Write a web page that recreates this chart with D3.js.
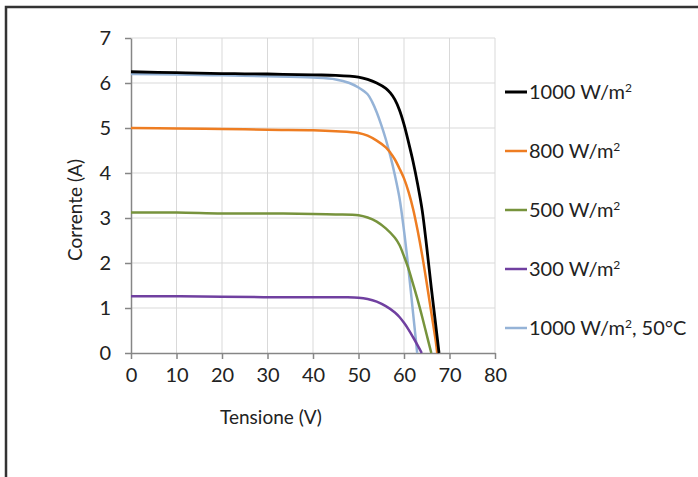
<!DOCTYPE html>
<html>
<head>
<meta charset="utf-8">
<script src="https://cdn.jsdelivr.net/npm/d3@7"></script>
<style>
  body { margin: 0; background: #fff; }
  text { font-family: Lato, "Noto Sans", sans-serif; fill: #222; }
</style>
</head>
<body>
<script>
// tensione (V) / corrente (A)
var v1000 = [0, 10, 20, 30, 40, 45, 50, 52, 54, 56, 57, 58, 59, 60, 61, 62, 63, 64, 65, 66, 67, 67.7]
var i1000 = [6.25, 6.23, 6.21, 6.2, 6.18, 6.17, 6.13, 6.08, 6.0, 5.88, 5.78, 5.63, 5.4, 5.08, 4.68, 4.25, 3.75, 3.17, 2.35, 1.45, 0.6, 0]

var v800 = [0, 10, 20, 30, 40, 45, 50, 52, 54, 56, 57, 58, 59, 60, 61, 62, 63, 64, 65, 66, 67, 67.3]
var i800 = [5.0, 4.99, 4.98, 4.96, 4.95, 4.93, 4.89, 4.83, 4.72, 4.57, 4.45, 4.3, 4.1, 3.88, 3.58, 3.2, 2.72, 2.17, 1.55, 0.9, 0.25, 0]

var v500 = [0, 10, 20, 30, 40, 45, 50, 52, 54, 56, 58, 59, 60, 61, 62, 63, 64, 65, 66]
var i500 = [3.12, 3.12, 3.1, 3.1, 3.09, 3.08, 3.06, 3.01, 2.92, 2.77, 2.56, 2.4, 2.15, 1.87, 1.53, 1.18, 0.8, 0.4, 0]

var v300 = [0, 10, 20, 30, 40, 47, 50, 52, 54, 56, 58, 59, 60, 61, 62, 63, 63.9]
var i300 = [1.26, 1.26, 1.25, 1.24, 1.24, 1.24, 1.23, 1.2, 1.14, 1.04, 0.9, 0.8, 0.67, 0.52, 0.35, 0.17, 0]

var v1000t = [0, 10, 20, 30, 40, 45, 48, 50, 52, 53, 54, 55, 56, 57, 58, 59, 60, 61, 62, 62.9]
var i1000t = [6.2, 6.19, 6.17, 6.15, 6.12, 6.08, 6.0, 5.9, 5.75, 5.58, 5.35, 5.07, 4.75, 4.38, 3.95, 3.45, 2.72, 1.85, 0.88, 0]

var seriesNames = ["1000 W/m", "800 W/m", "500 W/m", "300 W/m", "1000 W/m"]
var seriesTail = ["", "", "", "", ", 50°C"]
var seriesColors = ["#000000", "#ee7d22", "#77933c", "#7040a0", "#95b3d7"]
var xTicks = [0, 10, 20, 30, 40, 50, 60, 70, 80]
var yTicks = [0, 1, 2, 3, 4, 5, 6, 7]

var width = 698, height = 477

var svg = d3.select("body").append("svg")
    .attr("width", width)
    .attr("height", height)

// frame of the original scan
svg.append("path")
   .attr("d", "M6,477 V7 H698")
   .attr("fill", "none")
   .attr("stroke", "#333")
   .attr("stroke-width", 2.5)

var x = d3.scaleLinear().domain([0, 80]).range([131, 495])
var y = d3.scaleLinear().domain([0, 7]).range([353, 38])

// grid
svg.append("g").selectAll("line").data(xTicks.slice(1)).enter().append("line")
   .attr("x1", function(d){return x(d)}).attr("x2", function(d){return x(d)})
   .attr("y1", y(0)).attr("y2", y(7))
   .attr("stroke", "#d9d9d9").attr("stroke-width", 1)
svg.append("g").selectAll("line").data(yTicks.slice(1)).enter().append("line")
   .attr("x1", x(0)).attr("x2", x(80))
   .attr("y1", function(d){return y(d)}).attr("y2", function(d){return y(d)})
   .attr("stroke", "#d9d9d9").attr("stroke-width", 1)

// axes
svg.append("g")
   .attr("transform", "translate(0," + y(0) + ")")
   .call(d3.axisBottom(x).tickValues(xTicks).tickFormat(d3.format("d")).tickSize(6).tickPadding(9).tickSizeOuter(0))
svg.append("g")
   .attr("transform", "translate(" + x(0) + ",0)")
   .call(d3.axisLeft(y).tickValues(yTicks).tickFormat(d3.format("d")).tickSize(6).tickPadding(14).tickSizeOuter(0))

svg.selectAll(".domain").attr("stroke", "#868686").attr("stroke-width", 1.5)
svg.selectAll(".tick line").attr("stroke", "#868686").attr("stroke-width", 1.5)
svg.selectAll(".tick text").attr("font-size", "20px").attr("fill", "#222")
   .attr("font-family", "Lato, 'Noto Sans', sans-serif")

svg.append("text")
   .attr("x", 271).attr("y", 424)
   .attr("text-anchor", "middle")
   .attr("font-size", "19px")
   .text("Tensione (V)")

svg.append("text")
   .attr("transform", "translate(82,210) rotate(-90)")
   .attr("text-anchor", "middle")
   .attr("font-size", "19px")
   .text("Corrente (A)")

// curves
var allV = [v1000, v800, v500, v300, v1000t]
var allI = [i1000, i800, i500, i300, i1000t]
var series = allV.map(function(vs, k){
  return vs.map(function(v, j){ return [v, allI[k][j]] })
})

var line = d3.line()
    .x(function(d){return x(d[0])})
    .y(function(d){return y(d[1])})
    .curve(d3.curveCatmullRom.alpha(0.5))

// light blue under the others, black on top
var order = [4, 3, 2, 1, 0]
svg.append("g").selectAll("path").data(order).enter().append("path")
   .attr("d", function(k){return line(series[k])})
   .attr("fill", "none")
   .attr("stroke", function(k){return seriesColors[k]})
   .attr("stroke-width", function(k){return k == 0 ? 2.8 : 2.5})

// legend
var legend = svg.append("g").selectAll("g").data(seriesNames).enter().append("g")
    .attr("transform", function(d, i){return "translate(505," + (92 + i * 59) + ")"})
legend.append("line")
   .attr("x1", 0).attr("x2", 22)
   .attr("stroke", function(d, i){return seriesColors[i]})
   .attr("stroke-width", function(d, i){return i == 0 ? 3 : 2.5})
var lt = legend.append("text")
   .attr("x", 24).attr("y", 7)
   .attr("font-size", "20px")
lt.append("tspan").text(function(d){return d})
lt.append("tspan").attr("dy", -7).attr("font-size", "12px").text("2")
lt.append("tspan").attr("dy", 7).text(function(d, i){return seriesTail[i]})
</script>
</body>
</html>
